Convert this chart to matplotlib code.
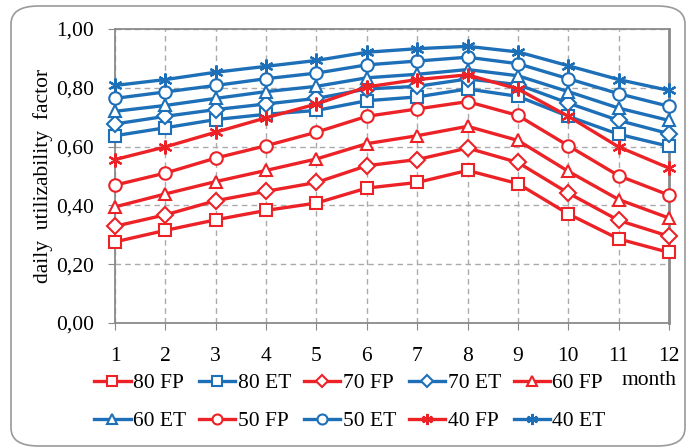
import matplotlib
matplotlib.use("Agg")
import matplotlib.pyplot as plt
from matplotlib.patches import FancyBboxPatch

months = [1, 2, 3, 4, 5, 6, 7, 8, 9, 10, 11, 12]

# daily utilizability factor per month
fp80 = [0.276, 0.315, 0.351, 0.383, 0.408, 0.459, 0.478, 0.519, 0.474, 0.371, 0.286, 0.240]
et80 = [0.637, 0.664, 0.692, 0.710, 0.723, 0.756, 0.769, 0.796, 0.771, 0.703, 0.642, 0.601]
fp70 = [0.329, 0.368, 0.416, 0.448, 0.478, 0.535, 0.556, 0.595, 0.546, 0.442, 0.349, 0.295]
et70 = [0.677, 0.703, 0.726, 0.745, 0.764, 0.796, 0.805, 0.830, 0.811, 0.748, 0.689, 0.644]
fp60 = [0.395, 0.439, 0.481, 0.519, 0.558, 0.610, 0.637, 0.669, 0.621, 0.516, 0.420, 0.357]
et60 = [0.720, 0.740, 0.764, 0.787, 0.805, 0.834, 0.846, 0.862, 0.841, 0.787, 0.731, 0.689]
fp50 = [0.469, 0.510, 0.561, 0.603, 0.649, 0.703, 0.728, 0.753, 0.706, 0.603, 0.501, 0.435]
et50 = [0.764, 0.786, 0.808, 0.831, 0.850, 0.878, 0.891, 0.904, 0.882, 0.831, 0.780, 0.737]
fp40 = [0.556, 0.599, 0.649, 0.698, 0.745, 0.803, 0.828, 0.844, 0.796, 0.703, 0.599, 0.527]
et40 = [0.808, 0.828, 0.853, 0.873, 0.893, 0.921, 0.933, 0.941, 0.922, 0.875, 0.828, 0.791]

labels = ["80 FP", "80 ET", "70 FP", "70 ET", "60 FP", "60 ET", "50 FP", "50 ET", "40 FP", "40 ET"]
series = [fp80, et80, fp70, et70, fp60, et60, fp50, et50, fp40, et40]
markers = ["s", "s", "D", "D", "^", "^", "o", "o", "*", "*"]

red = "#EC2227"
blue = "#1D6FB8"

plt.rcParams['font.family'] = ['Liberation Serif', 'DejaVu Serif']

fig = plt.figure(figsize=(6.89, 4.48), dpi=100)
fig.patches.append(FancyBboxPatch((11 / 689, 1 - 446 / 448), 674 / 689, 440 / 448,
                                  boxstyle="round,pad=0,rounding_size=0.04",
                                  transform=fig.transFigure, facecolor="none",
                                  edgecolor="#9a9a9a", linewidth=1.2))

ax = fig.add_axes([115 / 689, 1 - 323 / 448, 554 / 689, 294 / 448])

handles = []
for lab, vals, m in zip(labels, series, markers):
    col = red if lab.endswith("FP") else blue
    if m == "*":
        h, = ax.plot(months, vals, color=col, lw=2.4, marker=(6, 2, 0), ms=10,
                     mec=col, mew=1.6, label=lab, zorder=3, clip_on=False)
    else:
        ms = 8 if m == "D" else 9
        h, = ax.plot(months, vals, color=col, lw=2.4, marker=m, ms=ms,
                     mfc="white", mec=col, mew=1.5, label=lab, zorder=3,
                     clip_on=False)
    handles.append(h)

ax.set_xlim(1, 12)
ax.set_ylim(0, 1)
ax.set_xticks(months)
ax.set_yticks([0, 0.2, 0.4, 0.6, 0.8, 1.0])
ax.set_yticklabels(["0,00", "0,20", "0,40", "0,60", "0,80", "1,00"])
ax.tick_params(axis="both", labelsize=15.5, color="#888888", length=5)
ax.tick_params(axis="y", pad=10)
ax.tick_params(axis="x", pad=12)
ax.grid(True, color="#aaaaaa", linestyle=(0, (4, 3)), linewidth=1)
for s in ax.spines.values():
    s.set_color("#8a8a8a")
    s.set_linewidth(1.3)
ax.spines["right"].set_linewidth(2)

ax.set_ylabel("daily  utilizability  factor", fontsize=15.5, labelpad=2)

fig.text(622 / 689, 1 - 380 / 448, "month", fontsize=15.5, va="center", ha="left")

order = [0, 5, 1, 6, 2, 7, 3, 8, 4, 9]
fig.legend([handles[i] for i in order], [labels[i] for i in order],
           loc="upper left", bbox_to_anchor=(94 / 689, 1 - 373 / 448),
           ncol=5, frameon=False, fontsize=15.5, handlelength=1.7,
           handletextpad=0.1, columnspacing=0.6, labelspacing=0.85,
           borderpad=0, borderaxespad=0, markerscale=0.8)

fig.savefig("out.png", dpi=100)
